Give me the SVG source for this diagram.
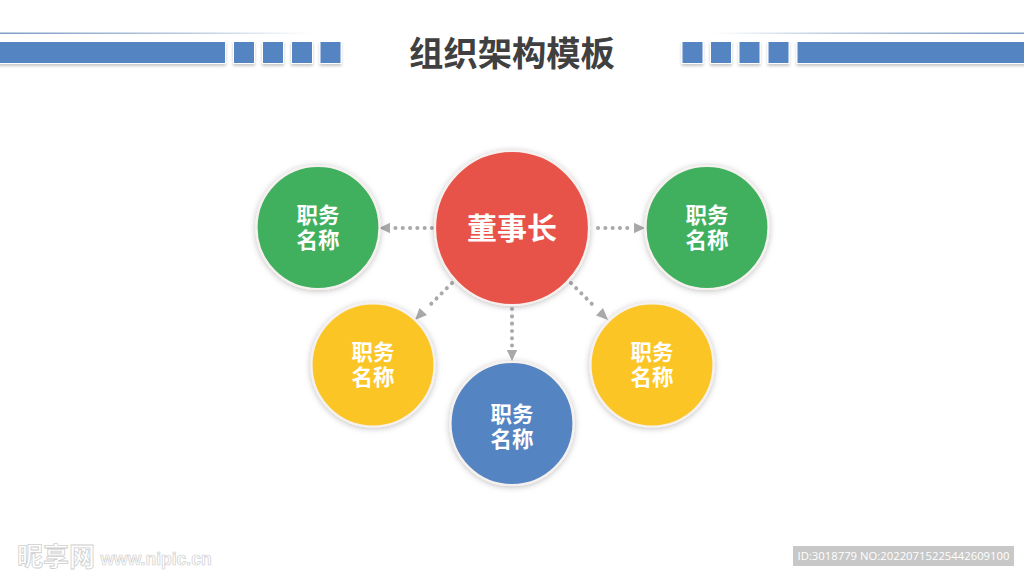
<svg xmlns="http://www.w3.org/2000/svg" width="1024" height="576" viewBox="0 0 1024 576">
<style>
text{font-family:"Noto Sans CJK SC","Noto Sans",sans-serif;text-anchor:middle}
.bar{fill:#5584c2;stroke:#fff;stroke-width:1;filter:url(#sb)}
.c{stroke:#f6f1ee;stroke-width:2.2;filter:url(#sc)}
.t{fill:#fff;font-weight:700;font-size:21.500px}
.conn{fill:none;stroke:#a9a9a9;stroke-width:4;stroke-linecap:round;stroke-dasharray:.1 7.2}
.head{fill:#a9a9a9}
</style>
<defs>
<filter id="sb" x="-10%" y="-30%" width="120%" height="170%"><feDropShadow dx="0" dy="2" stdDeviation="1.800" flood-color="#000" flood-opacity=".22"/></filter>
<filter id="sc" x="-15%" y="-15%" width="130%" height="130%"><feDropShadow dx="0" dy="1" stdDeviation="3" flood-color="#000" flood-opacity=".26"/></filter>
<linearGradient id="gl" x1="0" x2="1" y1="0" y2="0"><stop offset="0" stop-color="#5f86b8"/><stop offset=".6" stop-color="#a9bdd6"/><stop offset="1" stop-color="#fff"/></linearGradient>
<linearGradient id="gr" x1="1" x2="0" y1="0" y2="0"><stop offset="0" stop-color="#5f86b8"/><stop offset=".6" stop-color="#a9bdd6"/><stop offset="1" stop-color="#fff"/></linearGradient>
</defs>
<rect width="1024" height="576" fill="#fff"/>
<g id="header-left">
<rect x="0" y="32.600" width="312" height="1.200" fill="url(#gl)"/>
<rect class="bar" x="-3" y="41.500" width="228.500" height="22"/>
<rect class="bar" x="233.500" y="41.500" width="21" height="22"/>
<rect class="bar" x="262.500" y="41.500" width="21" height="22"/>
<rect class="bar" x="291.500" y="41.500" width="21" height="22"/>
<rect class="bar" x="320" y="41.500" width="21" height="22"/>
</g>
<g id="header-right">
<rect x="712" y="32.600" width="312" height="1.200" fill="url(#gr)"/>
<rect class="bar" x="682" y="41.500" width="21" height="22"/>
<rect class="bar" x="710.500" y="41.500" width="21" height="22"/>
<rect class="bar" x="739" y="41.500" width="21" height="22"/>
<rect class="bar" x="768" y="41.500" width="21" height="22"/>
<rect class="bar" x="797" y="41.500" width="230" height="22"/>
</g>
<text id="title" x="512" y="66" font-size="34.300" font-weight="700" fill="#404040">组织架构模板</text>
<g id="connectors">
<path class="conn" d="M432 228H392"/><path class="head" d="M379 228l11-5.200v10.400z"/>
<path class="conn" d="M598 228H634"/><path class="head" d="M645 228l-11-5.200v10.400z"/>
<path class="conn" d="M452 283L427 308"/><path class="head" d="M415 320l4.500-12 7.500 7z"/>
<path class="conn" d="M571 283L596 308"/><path class="head" d="M608 320l-12-4.500 7-7.500z"/>
<path class="conn" d="M512 309V348"/><path class="head" d="M512 361l-5.200-11h10.400z"/>
</g>
<g id="node-chairman"><circle class="c" cx="512" cy="228" r="77" fill="#e85248"/><text class="t" x="512" y="239" style="font-size:30px">董事长</text></g>
<g id="node-left"><circle class="c" cx="318" cy="227.500" r="61.500" fill="#3fb05e"/><text class="t" y="223"><tspan x="318">职务</tspan><tspan x="318" dy="25">名称</tspan></text></g>
<g id="node-right"><circle class="c" cx="707" cy="227.500" r="61.500" fill="#3fb05e"/><text class="t" y="223"><tspan x="707">职务</tspan><tspan x="707" dy="25">名称</tspan></text></g>
<g id="node-lower-left"><circle class="c" cx="373" cy="365" r="61.500" fill="#fcc525"/><text class="t" y="360"><tspan x="373">职务</tspan><tspan x="373" dy="25">名称</tspan></text></g>
<g id="node-lower-right"><circle class="c" cx="652" cy="365" r="61.500" fill="#fcc525"/><text class="t" y="360"><tspan x="652">职务</tspan><tspan x="652" dy="25">名称</tspan></text></g>
<g id="node-bottom"><circle class="c" cx="512" cy="423.500" r="61.500" fill="#5584c2"/><text class="t" y="422"><tspan x="512">职务</tspan><tspan x="512" dy="25">名称</tspan></text></g>
<g id="watermark">
<text x="56" y="566" font-size="26" font-weight="700" fill="#fff" stroke="#cfcfcf" stroke-width=".8">昵享网</text>
<text x="156" y="565" font-size="17.500" font-weight="700" fill="#fff" stroke="#cfcfcf" stroke-width=".7" style="font-family:'Liberation Sans',sans-serif">www.nipic.cn</text>
</g>
<g id="id-stamp">
<rect x="793" y="546" width="221" height="20" fill="#c8c8c8"/>
<text x="903.500" y="560" font-size="11.300" fill="#fff" style="font-family:'Open Sans',sans-serif">ID:3018779 NO:20220715225442609100</text>
</g>
</svg>
